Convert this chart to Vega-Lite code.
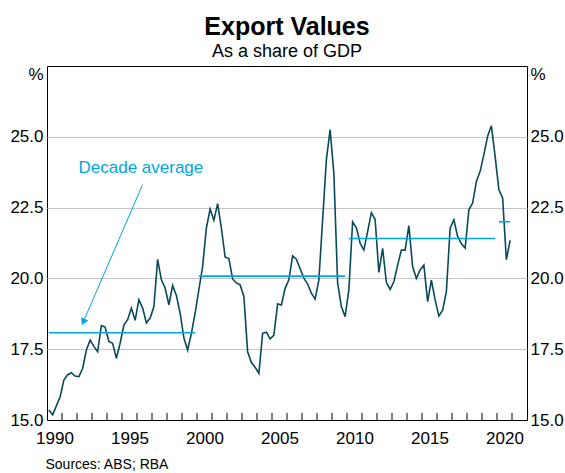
{
  "$schema": "https://vega.github.io/schema/vega-lite/v6.json",
  "autosize": {"type": "none"},
  "width": 480,
  "height": 354,
  "padding": {"left": 47, "top": 66, "right": 38, "bottom": 53},
  "background": "white",
  "title": {
    "text": "Export Values",
    "subtitle": "As a share of GDP",
    "font": "Liberation Sans",
    "fontSize": 25,
    "fontWeight": "bold",
    "color": "black",
    "subtitleFont": "Liberation Sans",
    "subtitleFontSize": 18,
    "subtitleColor": "black",
    "subtitlePadding": 3,
    "anchor": "middle",
    "frame": "group",
    "offset": 4
  },
  "config": {
    "view": {"stroke": "black", "strokeWidth": 1},
    "axis": {"labelFont": "Liberation Sans", "titleFont": "Liberation Sans"}
  },
  "datasets": {
    "exports": [
      {"d": 1990.125, "v": 15.35}, {"d": 1990.375, "v": 15.18}, {"d": 1990.625, "v": 15.5}, {"d": 1990.875, "v": 15.82},
      {"d": 1991.125, "v": 16.41}, {"d": 1991.375, "v": 16.6}, {"d": 1991.625, "v": 16.67}, {"d": 1991.875, "v": 16.55},
      {"d": 1992.125, "v": 16.53}, {"d": 1992.375, "v": 16.82}, {"d": 1992.625, "v": 17.47}, {"d": 1992.875, "v": 17.82},
      {"d": 1993.125, "v": 17.6}, {"d": 1993.375, "v": 17.41}, {"d": 1993.625, "v": 18.33}, {"d": 1993.875, "v": 18.28},
      {"d": 1994.125, "v": 17.77}, {"d": 1994.375, "v": 17.71}, {"d": 1994.625, "v": 17.18}, {"d": 1994.875, "v": 17.71},
      {"d": 1995.125, "v": 18.35}, {"d": 1995.375, "v": 18.54}, {"d": 1995.625, "v": 18.95}, {"d": 1995.875, "v": 18.52},
      {"d": 1996.125, "v": 19.25}, {"d": 1996.375, "v": 18.95}, {"d": 1996.625, "v": 18.43}, {"d": 1996.875, "v": 18.6},
      {"d": 1997.125, "v": 19.0}, {"d": 1997.375, "v": 20.67}, {"d": 1997.625, "v": 19.95}, {"d": 1997.875, "v": 19.66},
      {"d": 1998.125, "v": 19.07}, {"d": 1998.375, "v": 19.75}, {"d": 1998.625, "v": 19.4}, {"d": 1998.875, "v": 18.77},
      {"d": 1999.125, "v": 17.9}, {"d": 1999.375, "v": 17.47}, {"d": 1999.625, "v": 18.06}, {"d": 1999.875, "v": 18.77},
      {"d": 2000.125, "v": 19.6}, {"d": 2000.375, "v": 20.42}, {"d": 2000.625, "v": 21.78}, {"d": 2000.875, "v": 22.45},
      {"d": 2001.125, "v": 22.05}, {"d": 2001.375, "v": 22.64}, {"d": 2001.625, "v": 21.78}, {"d": 2001.875, "v": 20.76},
      {"d": 2002.125, "v": 20.7}, {"d": 2002.375, "v": 19.98}, {"d": 2002.625, "v": 19.84}, {"d": 2002.875, "v": 19.77},
      {"d": 2003.125, "v": 19.36}, {"d": 2003.375, "v": 17.41}, {"d": 2003.625, "v": 17.03}, {"d": 2003.875, "v": 16.86},
      {"d": 2004.125, "v": 16.65}, {"d": 2004.375, "v": 18.06}, {"d": 2004.625, "v": 18.1}, {"d": 2004.875, "v": 17.86},
      {"d": 2005.125, "v": 18.0}, {"d": 2005.375, "v": 19.1}, {"d": 2005.625, "v": 19.06}, {"d": 2005.875, "v": 19.65},
      {"d": 2006.125, "v": 19.95}, {"d": 2006.375, "v": 20.8}, {"d": 2006.625, "v": 20.68}, {"d": 2006.875, "v": 20.34},
      {"d": 2007.125, "v": 20.01}, {"d": 2007.375, "v": 19.8}, {"d": 2007.625, "v": 19.48}, {"d": 2007.875, "v": 19.27},
      {"d": 2008.125, "v": 19.95}, {"d": 2008.375, "v": 22.07}, {"d": 2008.625, "v": 24.19}, {"d": 2008.875, "v": 25.25},
      {"d": 2009.125, "v": 23.7}, {"d": 2009.375, "v": 19.83}, {"d": 2009.625, "v": 19.01}, {"d": 2009.875, "v": 18.65},
      {"d": 2010.125, "v": 19.6}, {"d": 2010.375, "v": 22.0}, {"d": 2010.625, "v": 21.79}, {"d": 2010.875, "v": 21.24},
      {"d": 2011.125, "v": 21.0}, {"d": 2011.375, "v": 21.65}, {"d": 2011.625, "v": 22.32}, {"d": 2011.875, "v": 22.08},
      {"d": 2012.125, "v": 20.21}, {"d": 2012.375, "v": 21.06}, {"d": 2012.625, "v": 19.86}, {"d": 2012.875, "v": 19.61},
      {"d": 2013.125, "v": 19.88}, {"d": 2013.375, "v": 20.47}, {"d": 2013.625, "v": 21.0}, {"d": 2013.875, "v": 21.0},
      {"d": 2014.125, "v": 21.86}, {"d": 2014.375, "v": 20.42}, {"d": 2014.625, "v": 20.0}, {"d": 2014.875, "v": 20.3},
      {"d": 2015.125, "v": 20.47}, {"d": 2015.375, "v": 19.18}, {"d": 2015.625, "v": 19.94}, {"d": 2015.875, "v": 19.24},
      {"d": 2016.125, "v": 18.67}, {"d": 2016.375, "v": 18.88}, {"d": 2016.625, "v": 19.53}, {"d": 2016.875, "v": 21.77},
      {"d": 2017.125, "v": 22.07}, {"d": 2017.375, "v": 21.48}, {"d": 2017.625, "v": 21.22}, {"d": 2017.875, "v": 21.07},
      {"d": 2018.125, "v": 22.42}, {"d": 2018.375, "v": 22.66}, {"d": 2018.625, "v": 23.42}, {"d": 2018.875, "v": 23.78},
      {"d": 2019.125, "v": 24.37}, {"d": 2019.375, "v": 25.02}, {"d": 2019.625, "v": 25.39}, {"d": 2019.875, "v": 24.31},
      {"d": 2020.125, "v": 23.13}, {"d": 2020.375, "v": 22.84}, {"d": 2020.625, "v": 20.66}, {"d": 2020.875, "v": 21.34}
    ],
    "averages": [
      {"d": 1990.125, "e": 1999.875, "v": 18.08},
      {"d": 2000.125, "e": 2009.875, "v": 20.08},
      {"d": 2010.125, "e": 2019.875, "v": 21.41},
      {"d": 2020.125, "e": 2020.875, "v": 22.0}
    ],
    "arrow": [
      {"d": 1996.37, "v": 23.31, "e": 1992.45, "v2": 18.5}
    ],
    "arrowhead": [
      {"d": 1992.45, "v": 18.5}
    ],
    "label": [
      {"d": 1992.1, "v": 23.9, "t": "Decade average"}
    ],
    "yearticks": [
      {"d": 1991, "v": 15, "v2": 15.25}, {"d": 1992, "v": 15, "v2": 15.25}, {"d": 1993, "v": 15, "v2": 15.25},
      {"d": 1994, "v": 15, "v2": 15.25}, {"d": 1995, "v": 15, "v2": 15.25}, {"d": 1996, "v": 15, "v2": 15.25},
      {"d": 1997, "v": 15, "v2": 15.25}, {"d": 1998, "v": 15, "v2": 15.25}, {"d": 1999, "v": 15, "v2": 15.25},
      {"d": 2000, "v": 15, "v2": 15.25}, {"d": 2001, "v": 15, "v2": 15.25}, {"d": 2002, "v": 15, "v2": 15.25},
      {"d": 2003, "v": 15, "v2": 15.25}, {"d": 2004, "v": 15, "v2": 15.25}, {"d": 2005, "v": 15, "v2": 15.25},
      {"d": 2006, "v": 15, "v2": 15.25}, {"d": 2007, "v": 15, "v2": 15.25}, {"d": 2008, "v": 15, "v2": 15.25},
      {"d": 2009, "v": 15, "v2": 15.25}, {"d": 2010, "v": 15, "v2": 15.25}, {"d": 2011, "v": 15, "v2": 15.25},
      {"d": 2012, "v": 15, "v2": 15.25}, {"d": 2013, "v": 15, "v2": 15.25}, {"d": 2014, "v": 15, "v2": 15.25},
      {"d": 2015, "v": 15, "v2": 15.25}, {"d": 2016, "v": 15, "v2": 15.25}, {"d": 2017, "v": 15, "v2": 15.25},
      {"d": 2018, "v": 15, "v2": 15.25}, {"d": 2019, "v": 15, "v2": 15.25}, {"d": 2020, "v": 15, "v2": 15.25},
      {"d": 2021, "v": 15, "v2": 15.25}
    ]
  },
  "encoding": {
    "x": {
      "field": "d", "type": "quantitative",
      "scale": {"domain": [1990, 2022], "nice": false, "zero": false},
      "axis": {
        "title": "Sources: ABS; RBA",
        "titleAnchor": "start",
        "titleAlign": "left",
        "titleFontSize": 14,
        "titleFontWeight": "normal",
        "titleColor": "black",
        "titlePadding": 11,
        "titleX": -2,
        "values": [1990.5, 1995.5, 2000.5, 2005.5, 2010.5, 2015.5, 2020.5],
        "labelExpr": "format(floor(datum.value), 'd')",
        "labelFlush": false,
        "labelOverlap": false,
        "labelBound": false,
        "labelFontSize": 17,
        "labelColor": "black",
        "labelPadding": 10,
        "ticks": false,
        "grid": false,
        "domain": false
      }
    }
  },
  "resolve": {"axis": {"y": "independent"}},
  "layer": [
    {
      "data": {"name": "exports"},
      "mark": {"type": "line", "color": "#08495b", "strokeWidth": 1.6},
      "encoding": {
        "y": {
          "field": "v", "type": "quantitative",
          "scale": {"domain": [15, 27.5], "nice": false, "zero": false},
          "axis": {
            "title": null,
            "values": [15, 17.5, 20, 22.5, 25, 27.2],
            "labelExpr": "datum.value > 26 ? '%' : format(datum.value, '.1f')",
            "labelFontSize": 17,
            "labelColor": "black",
            "labelPadding": 4,
            "ticks": false,
            "domain": false,
            "grid": true,
            "gridColor": "#c4c4c4",
            "gridWidth": 1,
            "gridOpacity": {"condition": {"test": "datum.value > 26 || datum.value < 16", "value": 0}, "value": 1}
          }
        }
      }
    },
    {
      "data": {"name": "averages"},
      "mark": {"type": "rule", "color": "#00a5e3", "strokeWidth": 1.6},
      "encoding": {
        "x2": {"field": "e"},
        "y": {
          "field": "v", "type": "quantitative",
          "axis": {
            "orient": "right",
            "title": null,
            "values": [15, 17.5, 20, 22.5, 25, 27.2],
            "labelExpr": "datum.value > 26 ? '%' : format(datum.value, '.1f')",
            "labelFontSize": 17,
            "labelColor": "black",
            "labelPadding": 3,
            "ticks": false,
            "domain": false,
            "grid": false
          }
        }
      }
    },
    {
      "data": {"name": "yearticks"},
      "mark": {"type": "rule", "color": "black", "strokeWidth": 1},
      "encoding": {
        "y": {"field": "v", "type": "quantitative", "axis": null},
        "y2": {"field": "v2"}
      }
    },
    {
      "data": {"name": "arrow"},
      "mark": {"type": "rule", "color": "#00a5e3", "strokeWidth": 1},
      "encoding": {
        "x2": {"field": "e"},
        "y": {"field": "v", "type": "quantitative", "axis": null},
        "y2": {"field": "v2"}
      }
    },
    {
      "data": {"name": "arrowhead"},
      "mark": {"type": "point", "shape": "triangle", "filled": true, "size": 60, "angle": 204, "color": "#00a5e3", "opacity": 1},
      "encoding": {
        "y": {"field": "v", "type": "quantitative", "axis": null}
      }
    },
    {
      "data": {"name": "label"},
      "mark": {"type": "text", "align": "left", "baseline": "middle", "font": "Liberation Sans", "fontSize": 17, "color": "#00a5e3"},
      "encoding": {
        "y": {"field": "v", "type": "quantitative", "axis": null},
        "text": {"field": "t"}
      }
    }
  ]
}
